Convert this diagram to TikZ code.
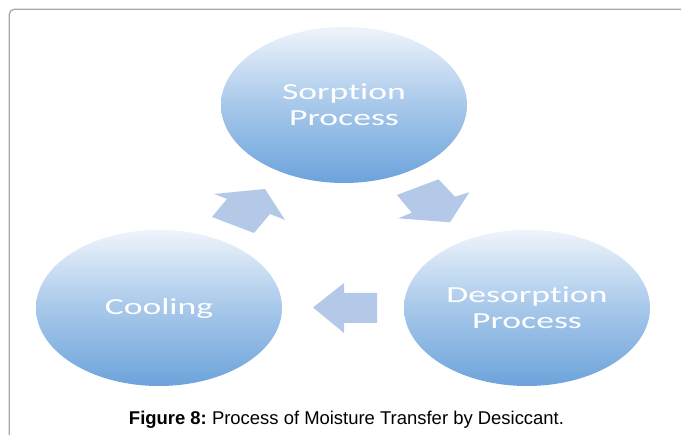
\documentclass[tikz,border=0pt]{standalone}
\usepackage{fontspec}
\usepackage{graphicx}
\setmainfont{Liberation Sans}
\newfontfamily\carl[Ligatures=NoCommon]{Carlito}
\usetikzlibrary{shapes.geometric}
\definecolor{framegray}{HTML}{A8A8A8}
\definecolor{bubtop}{HTML}{EEF4FB}
\definecolor{bubmid}{HTML}{A7C8EA}
\definecolor{bubbot}{HTML}{6CA3DB}
\definecolor{arrowblue}{HTML}{B4C9E8}
\newcommand\sx[1]{\scalebox{1.55}[1]{#1}}
\tikzset{
  bubble/.style={ellipse, minimum width=246pt, minimum height=156pt, inner sep=0pt,
    top color=bubtop, bottom color=bubbot, middle color=bubmid,
    text=white, align=center, font=\carl\fontsize{23}{26}\selectfont},
  blockarrow/.style={fill=arrowblue, draw=none},
  frameline/.style={draw=framegray, line width=1.3pt, rounded corners=5pt}
}
\begin{document}
\begin{tikzpicture}[x=1pt, y=-1pt]
\useasboundingbox (0,0) rectangle (681,435);
\fill[white] (0,0) rectangle (681,435);
% frame
\coordinate (fb) at (9.3,436);
\coordinate (fc) at (9.3,9.3);
\coordinate (fr) at (682,9.3);
\draw[frameline] (fb) -- (fc) -- (fr);
% bubbles
\node[bubble] (sorp) at (344,105) {\sx{Sorption}\\\sx{Process}};
\node[bubble] (desorp) at (527,308) {\sx{Desorption}\\\sx{Process}};
\node[bubble] (cool) at (159,308) {\sx{Cooling}};
% block arrows
\fill[blockarrow] (265,189) -- (285,220) -- (270,214) -- (254,233) -- (212,217) -- (227,199) -- (214,194) -- cycle;
\fill[blockarrow] (397,195) -- (438.5,179.3) -- (455,196.7) -- (469.3,192.3) -- (450,222.3) -- (398.3,218.3) -- (411.7,212.7) -- cycle;
\fill[blockarrow] (313,307.5) -- (344,283) -- (344,293) -- (377,293) -- (377,323) -- (344,323) -- (344,333) -- cycle;
% caption
\node[anchor=base, inner sep=0pt] (cap) at (346.5,425) {\fontsize{18.5}{20}\selectfont\resizebox{435pt}{\height}{\textbf{Figure 8:}~Process of Moisture Transfer by Desiccant.}};
\end{tikzpicture}
\end{document}
